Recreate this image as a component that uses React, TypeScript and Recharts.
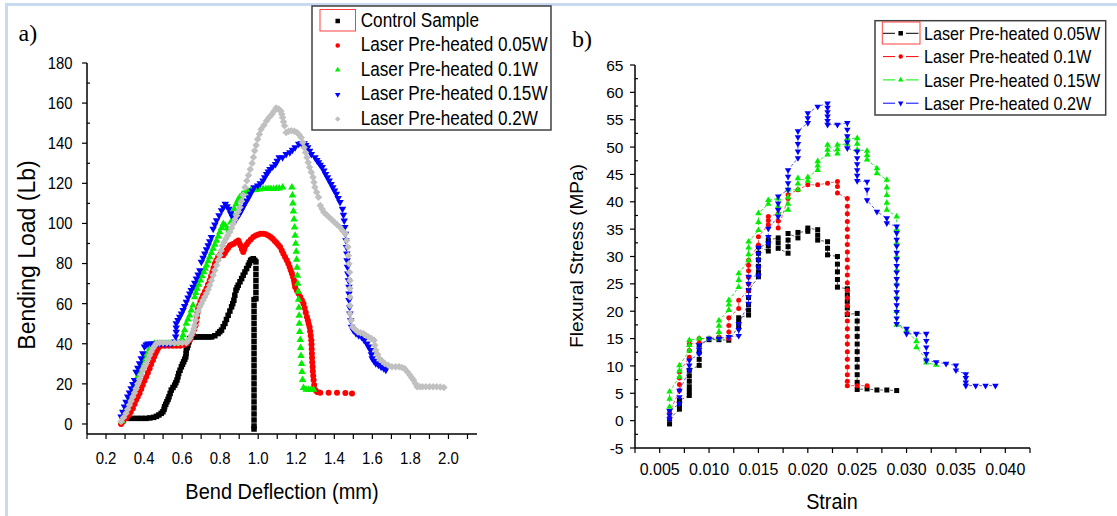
import React from 'react';
import { ScatterChart, Scatter, XAxis, YAxis } from 'recharts';

const FONT = '"Liberation Sans", Arial, sans-serif';
const SERIF = '"Liberation Serif", "Times New Roman", serif';

type Pt = [number, number];
type Col = [number, number[]];

// ---------- Panel a: Bending Load (Lb) vs Bend Deflection (mm) ----------
const namesA = ['Control Sample', 'Laser Pre-heated 0.05W', 'Laser Pre-heated 0.1W', 'Laser Pre-heated 0.15W', 'Laser Pre-heated 0.2W'];

const controlA: Pt[] = [
  [0.31, 2.8], [0.335, 2.8], [0.362, 2.8], [0.387, 2.8], [0.411, 2.8], [0.43, 3], [0.45, 3.3], [0.465, 3.8], [0.478, 4.5],
  [0.49, 5.3], [0.499, 6.1], [0.505, 7.3], [0.508, 8.6], [0.514, 9.8], [0.52, 11.1], [0.526, 12.3], [0.531, 13.6],
  [0.537, 15.2], [0.543, 16.9], [0.552, 18.2], [0.561, 19.4], [0.567, 20.6], [0.573, 21.9], [0.578, 23.5], [0.582, 25.2],
  [0.589, 26.8], [0.596, 28.5], [0.602, 29.8], [0.608, 31], [0.614, 32.3], [0.619, 33.5], [0.621, 35.1], [0.622, 36.8],
  [0.627, 38.1], [0.631, 39.3], [0.636, 41], [0.64, 42.6], [0.652, 43.4], [0.666, 43.4], [0.68, 43.4], [0.695, 43.4],
  [0.71, 43.4], [0.725, 43.4], [0.74, 43.4], [0.755, 43.4], [0.772, 44], [0.789, 45.1], [0.798, 46], [0.807, 46.8],
  [0.816, 48.5], [0.825, 50.1], [0.833, 52.1], [0.842, 54.2], [0.851, 56.3], [0.86, 58.4], [0.866, 60], [0.872, 61.7],
  [0.877, 64.2], [0.883, 66.7], [0.889, 68], [0.895, 69.2], [0.904, 70.9], [0.913, 72.5], [0.921, 74.2], [0.93, 75.8],
  [0.939, 77.5], [0.948, 79.1], [0.954, 80.3], [0.96, 81.6], [0.967, 82], [0.974, 82.4], [0.982, 81.6],
  [0.988, 80.8], [0.988, 77.5], [0.988, 74.5], [0.988, 71.5], [0.988, 68.5], [0.988, 65.5], [0.988, 62.5],
  [0.978, 62], [0.978, 59], [0.978, 56], [0.978, 53], [0.978, 50], [0.978, 47], [0.978, 44], [0.978, 41], [0.978, 38],
  [0.978, 35], [0.978, 32], [0.978, 29], [0.978, 26], [0.978, 23], [0.978, 20], [0.978, 17], [0.978, 14], [0.978, 11],
  [0.978, 8], [0.978, 5], [0.978, 2], [0.978, -1], [0.978, -2.5],
];

const w005A: Pt[] = [
  [0.279, 0], [0.29, 1.2], [0.305, 2.8], [0.32, 4.5], [0.33, 6], [0.341, 7.8], [0.35, 10], [0.358, 12], [0.367, 13.6],
  [0.376, 15.3], [0.385, 17.5], [0.393, 19.4], [0.402, 21.5], [0.411, 23.5], [0.42, 25.6], [0.429, 27.7], [0.437, 29.8],
  [0.446, 31.8], [0.453, 33.5], [0.46, 35.2], [0.467, 36.5], [0.473, 37.6], [0.48, 38.8], [0.492, 39], [0.51, 39],
  [0.53, 39], [0.55, 39], [0.57, 39], [0.59, 39], [0.61, 39.5], [0.625, 40.3], [0.64, 41.8], [0.648, 43.5], [0.657, 45.1],
  [0.664, 47.2], [0.671, 49.2], [0.675, 51.3], [0.678, 53.4], [0.681, 55.5], [0.684, 57.5], [0.69, 59.2], [0.696, 60.9],
  [0.703, 62.5], [0.71, 64.2], [0.719, 65.9], [0.728, 67.5], [0.736, 69.5], [0.745, 71.6], [0.752, 73.7], [0.759, 75.8],
  [0.765, 77.8], [0.772, 79.9], [0.78, 81.6], [0.789, 83.2], [0.8, 84.5], [0.816, 84.1], [0.825, 85.3], [0.833, 86.6],
  [0.842, 87.8], [0.851, 89], [0.862, 89.5], [0.872, 89.9], [0.883, 90.7], [0.895, 91.5], [0.901, 90.2], [0.907, 89],
  [0.914, 87.3], [0.921, 85.7], [0.926, 87], [0.93, 88.2], [0.939, 89.5], [0.948, 90.7], [0.961, 92], [0.974, 93.2],
  [0.987, 94], [1.0, 94.5], [1.013, 94.8], [1.027, 94.9], [1.04, 94.6], [1.053, 94], [1.065, 93.2], [1.076, 92.4],
  [1.087, 91.3], [1.097, 90.2], [1.106, 89.2], [1.115, 88.2], [1.124, 86.5], [1.132, 84.9], [1.141, 83.2], [1.15, 81.6],
  [1.158, 80], [1.165, 78.3], [1.171, 76.6], [1.177, 75], [1.183, 73.3], [1.188, 71.6], [1.191, 70], [1.194, 68.3],
  [1.203, 66.6], [1.212, 65], [1.221, 63.3], [1.23, 61.6], [1.238, 60], [1.244, 57.8], [1.25, 55.6], [1.256, 53.4],
  [1.261, 51.7], [1.265, 50], [1.27, 48.4], [1.273, 46.2], [1.276, 44], [1.279, 41.8], [1.28, 39.6], [1.281, 37.4],
  [1.282, 35.2], [1.283, 33], [1.284, 30.8], [1.286, 28.5], [1.287, 26.3], [1.289, 24.1], [1.291, 21.9], [1.294, 19.4],
  [1.3, 16.9], [1.31, 16], [1.326, 15.6], [1.37, 15.6], [1.414, 15.6], [1.458, 15.4], [1.493, 15.2],
];

const w01A: Pt[] = [
  [0.282, 1.5], [0.29, 4], [0.3, 7], [0.309, 9.4], [0.318, 11.5], [0.328, 13.6], [0.337, 16], [0.347, 18.6], [0.356, 21],
  [0.366, 23.5], [0.375, 25], [0.385, 26.9], [0.394, 29.5], [0.403, 31.8], [0.412, 34], [0.422, 36], [0.431, 38],
  [0.441, 39.5], [0.455, 40.1], [0.47, 40.1], [0.49, 40.1], [0.51, 40.1], [0.53, 40.1], [0.55, 40.1], [0.57, 40.1],
  [0.59, 40.5], [0.6, 42.5], [0.605, 44.3], [0.613, 46.8], [0.622, 50.1], [0.631, 52.2], [0.64, 54.2], [0.648, 56.7],
  [0.657, 59.2], [0.666, 63.3], [0.672, 65.4], [0.678, 67.5], [0.687, 69.5], [0.696, 71.6], [0.705, 73.7], [0.714, 75.8],
  [0.721, 77.5], [0.728, 79.1], [0.737, 81.2], [0.745, 83.2], [0.754, 85.3], [0.763, 87.4], [0.772, 89.5], [0.781, 91.5],
  [0.79, 93.6], [0.798, 95.7], [0.807, 97.8], [0.816, 99.8], [0.826, 99], [0.836, 97.5], [0.846, 96.5], [0.855, 100.5],
  [0.865, 104.8], [0.874, 107.3], [0.884, 109.7], [0.893, 111.5], [0.902, 113], [0.916, 114.5], [0.93, 115.5],
  [0.945, 116], [0.959, 116.4], [0.973, 116.6], [0.987, 116.7], [1.006, 117], [1.025, 117.2], [1.04, 117.2],
  [1.053, 117.2], [1.067, 117.3], [1.081, 117.3], [1.095, 117.4], [1.11, 117.5], [1.128, 118], [1.177, 118],
  [1.18, 114], [1.182, 110], [1.185, 106], [1.188, 102], [1.191, 98], [1.194, 94], [1.197, 90], [1.2, 86], [1.202, 82],
  [1.204, 78], [1.206, 74], [1.208, 70], [1.21, 66], [1.212, 62], [1.214, 58], [1.215, 54], [1.216, 50], [1.218, 46],
  [1.221, 42], [1.223, 38], [1.225, 34], [1.228, 30], [1.23, 26], [1.233, 22], [1.238, 18], [1.252, 17.2], [1.265, 17.2],
  [1.278, 17.2], [1.291, 17.2],
];

const w015A: Pt[] = [
  [0.279, 3.7], [0.288, 6], [0.297, 8.6], [0.305, 11], [0.314, 13.6], [0.323, 15.6], [0.332, 17.7], [0.341, 19.8],
  [0.35, 21.9], [0.358, 26], [0.367, 28], [0.376, 30.2], [0.385, 32.7], [0.393, 35.2], [0.402, 38.5], [0.411, 39.5],
  [0.42, 40.1], [0.437, 40.1], [0.455, 40.1], [0.472, 40.1], [0.49, 40.1], [0.507, 40.1], [0.525, 40.1], [0.543, 40.1],
  [0.561, 41], [0.566, 43.5], [0.569, 45.9], [0.569, 48], [0.569, 50.1], [0.578, 51.8], [0.587, 53.4], [0.596, 55],
  [0.605, 56.7], [0.613, 58.8], [0.622, 60.9], [0.631, 63], [0.64, 65], [0.648, 66.7], [0.657, 68.3], [0.666, 70.4],
  [0.675, 72.5], [0.684, 74.5], [0.693, 76.6], [0.701, 80.8], [0.71, 82.8], [0.719, 84.9], [0.728, 87], [0.737, 89],
  [0.745, 91], [0.754, 93.2], [0.763, 97.3], [0.772, 99.4], [0.781, 101.5], [0.794, 104], [0.807, 106.5], [0.817, 108],
  [0.827, 109.7], [0.836, 108.5], [0.846, 107.2], [0.855, 105], [0.865, 103.1], [0.874, 102.5], [0.884, 102.3],
  [0.893, 103.5], [0.902, 104.8], [0.912, 106.5], [0.921, 108.1], [0.93, 109.8], [0.94, 111.4], [0.95, 113],
  [0.959, 114.7], [0.968, 116.3], [0.978, 118], [0.997, 118.8], [1.011, 120], [1.025, 121.3], [1.034, 123],
  [1.044, 124.6], [1.053, 125.8], [1.062, 127.1], [1.076, 128.3], [1.091, 129.6], [1.1, 131.2], [1.11, 132.9],
  [1.128, 132.9], [1.147, 134.6], [1.166, 135.4], [1.18, 136.6], [1.194, 137.9], [1.213, 139.6], [1.227, 139.9],
  [1.241, 139.9], [1.25, 139], [1.26, 137.9], [1.27, 136.2], [1.279, 134.6], [1.298, 132.9], [1.308, 131.6],
  [1.317, 130.4], [1.326, 129.2], [1.336, 128], [1.345, 126.3], [1.354, 124.6], [1.364, 123], [1.373, 121.3],
  [1.383, 119.6], [1.392, 118], [1.401, 116.3], [1.411, 114.7], [1.42, 112.6], [1.43, 110.6], [1.443, 107.2],
  [1.448, 104.3], [1.452, 101.4], [1.455, 98.1], [1.458, 94.8], [1.461, 91.5], [1.464, 88.2], [1.466, 84.9],
  [1.467, 81.6], [1.469, 78.3], [1.471, 74.9], [1.474, 71.6], [1.477, 68.3], [1.477, 65], [1.477, 61.7], [1.48, 58.3],
  [1.482, 55], [1.486, 51.7], [1.49, 48.4], [1.5, 46.7], [1.514, 45.1], [1.528, 44.2], [1.543, 43.4], [1.557, 41.8],
  [1.571, 40.1], [1.58, 38.5], [1.59, 36.8], [1.595, 34.7], [1.599, 32.7], [1.608, 31.4], [1.618, 30.2], [1.632, 29.4],
  [1.646, 28.5], [1.66, 27.7], [1.671, 26.9],
];

const w02A: Pt[] = [
  [0.279, 1.2], [0.292, 3.2], [0.305, 5.3], [0.314, 7.3], [0.323, 9.4], [0.332, 11.5], [0.341, 13.6], [0.35, 15.6],
  [0.358, 17.7], [0.367, 20], [0.376, 22.3], [0.385, 24.6], [0.393, 26.9], [0.402, 28.5], [0.411, 30.2], [0.42, 32.3],
  [0.429, 34.3], [0.437, 36], [0.446, 37.6], [0.455, 38.9], [0.464, 40.1], [0.481, 40.5], [0.5, 40.5], [0.52, 40.5],
  [0.54, 40.5], [0.56, 40.5], [0.58, 40.5], [0.6, 40.5], [0.622, 40.5], [0.631, 41.5], [0.64, 42.6], [0.648, 44.3],
  [0.657, 45.9], [0.662, 47.5], [0.666, 49.2], [0.671, 51.7], [0.675, 54.2], [0.684, 56.3], [0.693, 58.4], [0.701, 60],
  [0.71, 61.7], [0.719, 63.3], [0.728, 65], [0.737, 67.1], [0.745, 69.2], [0.754, 71.6], [0.763, 74.1], [0.772, 76.6],
  [0.781, 79.1], [0.79, 81.6], [0.798, 84.1], [0.805, 86.5], [0.812, 89], [0.821, 90.7], [0.83, 92.4], [0.84, 94],
  [0.851, 95.7], [0.86, 97.7], [0.869, 99.8], [0.877, 101.9], [0.886, 104], [0.895, 106], [0.904, 108.1], [0.912, 111],
  [0.921, 114], [0.931, 118], [0.94, 121.3], [0.949, 124], [0.958, 127], [0.968, 130], [0.975, 133], [0.981, 136.2],
  [0.989, 139], [0.997, 142], [1.006, 144.5], [1.015, 147], [1.03, 149], [1.044, 151.2], [1.058, 153], [1.072, 154.5],
  [1.083, 156], [1.094, 157.5], [1.107, 157], [1.119, 156.1], [1.124, 154.5], [1.128, 152.8], [1.133, 150.7],
  [1.138, 148.7], [1.147, 145.4], [1.16, 146], [1.175, 146.2], [1.19, 146], [1.204, 145.4], [1.215, 144.2],
  [1.226, 142.9], [1.234, 140.4], [1.241, 137.9], [1.249, 135.4], [1.256, 132.9], [1.263, 130.4], [1.27, 128],
  [1.279, 125.5], [1.288, 123], [1.293, 120.5], [1.298, 118], [1.307, 115.5], [1.317, 113], [1.326, 108.9],
  [1.336, 107.2], [1.345, 105.6], [1.359, 104.3], [1.373, 103.1], [1.387, 101.8], [1.401, 100.6], [1.415, 99.3],
  [1.43, 98.1], [1.444, 96.4], [1.458, 94.8], [1.465, 91.5], [1.471, 88.2], [1.474, 84], [1.477, 79.9], [1.48, 75.7],
  [1.482, 71.6], [1.482, 67.5], [1.482, 63.3], [1.482, 59.1], [1.482, 55], [1.489, 51.7], [1.496, 48.4], [1.51, 47.1],
  [1.524, 45.9], [1.538, 45.5], [1.552, 45.1], [1.566, 44.2], [1.58, 43.4], [1.595, 42.6], [1.609, 41.8], [1.613, 39.3],
  [1.618, 36.8], [1.628, 34.7], [1.637, 32.7], [1.651, 31.4], [1.665, 30.2], [1.684, 29.3], [1.703, 28.5], [1.722, 28.5],
  [1.74, 28.5], [1.755, 28.1], [1.769, 27.7], [1.783, 26], [1.797, 24.4], [1.807, 23.1], [1.816, 21.9], [1.826, 20.2],
  [1.835, 18.6], [1.849, 18.6], [1.863, 18.6], [1.881, 18.6], [1.9, 18.6], [1.919, 18.6], [1.938, 18.6], [1.957, 18.4],
  [1.976, 18.2],
];

const xMajorA = [0.2, 0.4, 0.6, 0.8, 1.0, 1.2, 1.4, 1.6, 1.8, 2.0];
const xMinorA = [0.1, 0.3, 0.5, 0.7, 0.9, 1.1, 1.3, 1.5, 1.7, 1.9, 2.1];
const yMajorA = [0, 20, 40, 60, 80, 100, 120, 140, 160, 180];
const yMinorA = [10, 30, 50, 70, 90, 110, 130, 150, 170];

// ---------- Panel b: Flexural Stress (MPa) vs Strain ----------
const namesB = ['Laser Pre-heated 0.05W', 'Laser Pre-heated 0.1W', 'Laser Pre-heated 0.15W', 'Laser Pre-heated 0.2W'];

const w005B: Col[] = [
  [0.006, [-0.6, 0.3]], [0.007, [2.1, 2.9, 3.7]], [0.008, [4.6, 5.4, 6.2, 7.2, 8.2, 9.2]], [0.009, [10.1, 11.2, 12.5, 13.8]],
  [0.010, [14.8]], [0.011, [14.8]], [0.012, [14.7]], [0.013, [17.2, 18, 18.8]], [0.014, [19.3, 20.2, 21.2, 22.5, 23.8]],
  [0.015, [26.3, 27.2, 28.2, 29.4, 30.6, 31.8]], [0.016, [31, 32, 33]], [0.017, [33.4, 32.5, 31.5]],
  [0.018, [30.6, 31.8, 33, 34.2]], [0.019, [33.4, 34.4]], [0.020, [34.6, 35.2]], [0.021, [34.9, 33.9, 33]],
  [0.022, [32.7, 31.5, 30.3]], [0.023, [30, 28.6, 27.2, 25.8, 24.4]], [0.024, [24.1, 23, 21.8, 20.6, 19.4]],
  [0.025, [19.6, 18.2, 16.8, 15.4, 14, 12.6, 11.2, 9.8, 8.4, 7, 5.7]], [0.026, [5.8]], [0.027, [5.6]], [0.028, [5.6]],
  [0.029, [5.5]],
];

const w01B: Col[] = [
  [0.006, [0.5, 1.5]], [0.007, [5.5, 6.6, 7.8, 8.9]], [0.008, [11.6, 12.8, 14]], [0.009, [14.2, 15]], [0.010, [15]],
  [0.011, [15.3]], [0.012, [15, 16.2, 17.4, 18.8]], [0.013, [20.5, 22]], [0.014, [23.8, 25, 26.2, 27.4, 28.4, 29.3]],
  [0.015, [32.1, 33.6]], [0.016, [35.8, 36.6, 37.3]], [0.017, [37.8, 36.5, 35.2]], [0.018, [40.6, 41.3]], [0.019, [42.2]],
  [0.020, [43.1]], [0.021, [43.1]], [0.022, [43.4]], [0.023, [43.7, 42.8, 41.6]],
  [0.024, [40.6, 39.2, 37.8, 36.4, 35, 33.6, 32.2, 30.8, 29.4, 28, 26.6, 25.2, 23.8, 22.4, 21, 19.6, 18.2, 16.8, 15.4, 14, 12.6, 11.2, 9.8, 8.4, 7.2, 6.4]],
  [0.025, [6.4]], [0.026, [6.4]],
];

const w015B: Col[] = [
  [0.006, [2.5, 4, 5.3]], [0.007, [8, 9.1, 10.1]], [0.008, [12.8, 13.8, 14.7]], [0.009, [15]], [0.010, [15]],
  [0.011, [15, 16.2, 17.3, 18.3]], [0.012, [20.2, 21.2, 22]], [0.013, [24.4, 25.7, 26.9]], [0.014, [29.3, 30.4, 31.6, 32.7]],
  [0.015, [34.8, 36.3, 37.9]], [0.016, [39.6, 40.3]], [0.017, [40.6, 39.2, 37.9]], [0.018, [38.5, 39.6, 40.8, 42.2]],
  [0.019, [42.2, 43.3, 44.3]], [0.020, [43.8, 44.5]], [0.021, [45.8, 46.6, 47.4]], [0.022, [48.6, 49.5, 50.4]],
  [0.023, [48.8, 49.6, 50.4]], [0.024, [50.6, 51.6]], [0.025, [51.6, 50.6, 49.5]], [0.026, [49.3, 48.5, 47.7]],
  [0.027, [46.1, 45.2]], [0.028, [44, 42.6, 41.2, 39.8, 38.5]], [0.029, [37.3, 35, 32.5, 30, 27.5, 25, 22.5, 20, 17.5]],
  [0.030, [16.5]], [0.031, [14.5, 13.4]], [0.032, [11.2, 10.6]], [0.033, [10.2]],
];

const w02B: Col[] = [
  [0.006, [0.3, 1, 1.8]], [0.007, [3.1, 4.3, 5.5]], [0.008, [9.2, 10.1, 11]], [0.009, [12.2, 13, 13.8]], [0.010, [15]],
  [0.011, [15]], [0.012, [15.3]], [0.013, [15.5, 16.6, 17.7]], [0.014, [21.4, 22.6, 23.8, 25, 26.3]],
  [0.015, [26.5, 28, 29.3, 30.5, 31.6]], [0.016, [32.4, 33.6, 35.1]], [0.017, [37.3, 38.5, 39.7, 41]],
  [0.018, [42.2, 43.4, 44.6, 45.8]], [0.019, [48, 49.2, 50.6, 51.8, 52.9]], [0.020, [54.4, 55.3, 56.2]], [0.021, [57.4]],
  [0.022, [58, 57.2, 56.4, 55.6, 54.8, 54.1]], [0.023, [54.1]], [0.024, [54.4, 53.2, 52, 50.9, 49.8]],
  [0.025, [49.2, 48, 46.9, 45.8, 44.8, 43.8]], [0.026, [43.7, 42.2, 40.3]], [0.027, [38.2]], [0.028, [37, 36.1]],
  [0.029, [35.5, 34.3, 33.1, 31.9, 30.7, 29.5, 28.3, 27.1, 25.9, 24.7, 23.5, 22.3, 21.1, 19.9, 18.7, 17.7]],
  [0.030, [16.8, 15.9]], [0.031, [15.9]], [0.032, [15.9, 14.6, 13.4, 12.2, 11]], [0.033, [10.7]], [0.034, [10.4]],
  [0.035, [10.1, 9.2]], [0.036, [8.5, 7.8, 7, 6.4]], [0.037, [6.4]], [0.038, [6.4]], [0.039, [6.4]],
];

const xMajorB = [0.005, 0.01, 0.015, 0.02, 0.025, 0.03, 0.035, 0.04];
const xMinorB = [0.0025, 0.0075, 0.0125, 0.0175, 0.0225, 0.0275, 0.0325, 0.0375, 0.0425];
const yMajorB = [-5, 0, 5, 10, 15, 20, 25, 30, 35, 40, 45, 50, 55, 60, 65];
const yMinorB = [-2.5, 2.5, 7.5, 12.5, 17.5, 22.5, 27.5, 32.5, 37.5, 42.5, 47.5, 52.5, 57.5, 62.5];

// ---------- helpers ----------
const toObj = (pts: Pt[]) => pts.map(([x, y]) => ({ x, y }));
const flat = (cols: Col[]) => cols.flatMap(([x, ys]) => ys.map((y) => ({ x, y })));
const isMajor = (v: number, majors: number[]) => majors.some((m) => Math.abs(m - v) < 1e-9);

function Marker({ kind, cx, cy, s, color }: any) {
  if (cx == null || cy == null || isNaN(cx) || isNaN(cy)) return null;
  if (kind === 'square') return <rect x={cx - s / 2} y={cy - s / 2} width={s} height={s} fill={color} />;
  if (kind === 'circle') return <circle cx={cx} cy={cy} r={s / 2} fill={color} />;
  if (kind === 'up') {
    const h = s * 0.866;
    return <polygon points={`${cx},${cy - (2 * h) / 3} ${cx - s / 2},${cy + h / 3} ${cx + s / 2},${cy + h / 3}`} fill={color} />;
  }
  if (kind === 'down') {
    const h = s * 0.866;
    return <polygon points={`${cx},${cy + (2 * h) / 3} ${cx - s / 2},${cy - h / 3} ${cx + s / 2},${cy - h / 3}`} fill={color} />;
  }
  return <polygon points={`${cx},${cy - s / 2} ${cx + s / 2},${cy} ${cx},${cy + s / 2} ${cx - s / 2},${cy}`} fill={color} />;
}

const shapeOf = (kind: string, color: string, s: number) => (p: any) => <Marker kind={kind} cx={p.cx} cy={p.cy} s={s} color={color} />;

function STxt({ x, y, fs, sx = 1, anchor = 'middle', children, family = FONT }: any) {
  return (
    <text transform={`translate(${x},${y}) scale(${sx},1)`} textAnchor={anchor} fontSize={fs} fontFamily={family} fill="#000">
      {children}
    </text>
  );
}

const makeXTick = (majors: number[], fmt: (v: number) => string, dy: number, fs: number, sx: number) => (props: any) => {
  const { x, y, payload } = props;
  const v = payload.value;
  const major = isMajor(v, majors);
  return (
    <g>
      <line x1={x} x2={x} y1={y} y2={y + 5} stroke="#000" strokeWidth={1.2} />
      {major && <STxt x={x} y={y + dy} fs={fs} sx={sx}>{fmt(v)}</STxt>}
    </g>
  );
};

const makeYTick = (majors: number[], gap: number, fs: number, sx: number) => (props: any) => {
  const { x, y, payload } = props;
  const v = payload.value;
  const major = isMajor(v, majors);
  return (
    <g>
      {major ? (
        <line x1={x - 5} x2={x} y1={y} y2={y} stroke="#000" strokeWidth={1.2} />
      ) : (
        <line x1={x} x2={x + 3} y1={y} y2={y} stroke="#000" strokeWidth={1.2} />
      )}
      {major && <STxt x={x - gap} y={y + fs * 0.36} fs={fs} sx={sx} anchor="end">{String(v)}</STxt>}
    </g>
  );
};

const seriesA = [
  { name: namesA[0], data: toObj(controlA), kind: 'square', color: '#000000', s: 5.5 },
  { name: namesA[1], data: toObj(w005A), kind: 'circle', color: '#ff0000', s: 6 },
  { name: namesA[2], data: toObj(w01A), kind: 'up', color: '#00ee00', s: 7.5 },
  { name: namesA[3], data: toObj(w015A), kind: 'down', color: '#0000ff', s: 7.5 },
  { name: namesA[4], data: toObj(w02A), kind: 'diamond', color: '#c0c0c0', s: 7.5 },
];

const seriesB = [
  { name: namesB[0], data: flat(w005B), kind: 'square', color: '#000000', line: '#333333', s: 5 },
  { name: namesB[1], data: flat(w01B), kind: 'circle', color: '#ff0000', line: '#ff3030', s: 5 },
  { name: namesB[2], data: flat(w015B), kind: 'up', color: '#00ee00', line: '#00dd00', s: 6.5 },
  { name: namesB[3], data: flat(w02B), kind: 'down', color: '#0000ff', line: '#3030ff', s: 6.5 },
];

const ticksXA = [...xMinorA, ...xMajorA].sort((a, b) => a - b);
const ticksYA = [...yMinorA, ...yMajorA].sort((a, b) => a - b);
const ticksXB = [...xMinorB, ...xMajorB].sort((a, b) => a - b);
const ticksYB = [...yMinorB, ...yMajorB].sort((a, b) => a - b);

const axisLine = { stroke: '#000', strokeWidth: 1.5 };

export default function App() {
  return (
    <div style={{ position: 'absolute', left: 0, top: 0, width: 1117, height: 516, background: '#fff', overflow: 'hidden' }}>
      <div style={{ position: 'absolute', left: 0, top: 0 }}>
        <ScatterChart width={560} height={516} margin={{ top: 63, right: 83, bottom: 81, left: 86 }}>
          <XAxis type="number" dataKey="x" domain={[0.1, 2.15]} allowDataOverflow ticks={ticksXA} interval={0}
            tick={makeXTick(xMajorA, (v) => v.toFixed(1), 29.5, 17, 0.88)} tickLine={false} tickSize={0} tickMargin={0}
            axisLine={axisLine} height={1} />
          <YAxis type="number" dataKey="y" domain={[-5, 180]} allowDataOverflow ticks={ticksYA} interval={0}
            tick={makeYTick(yMajorA, 14.5, 16.5, 0.9)} tickLine={false} tickSize={0} tickMargin={0}
            axisLine={axisLine} width={1} />
          {seriesA.map((s) => (
            <Scatter key={s.name} name={s.name} data={s.data} isAnimationActive={false} shape={shapeOf(s.kind, s.color, s.s)} />
          ))}
        </ScatterChart>
      </div>
      <div style={{ position: 'absolute', left: 560, top: 0 }}>
        <ScatterChart width={557} height={516} margin={{ top: 65, right: 87, bottom: 67, left: 74 }}>
          <XAxis type="number" dataKey="x" domain={[0.0025, 0.0425]} allowDataOverflow ticks={ticksXB} interval={0}
            tick={makeXTick(xMajorB, (v) => v.toFixed(3), 27, 17, 0.94)} tickLine={false} tickSize={0} tickMargin={0}
            axisLine={axisLine} height={1} />
          <YAxis type="number" dataKey="y" domain={[-5, 65]} allowDataOverflow ticks={ticksYB} interval={0}
            tick={makeYTick(yMajorB, 11.5, 15.5, 1)} tickLine={false} tickSize={0} tickMargin={0}
            axisLine={axisLine} width={1} />
          {seriesB.map((s) => (
            <Scatter key={s.name} name={s.name} data={s.data} isAnimationActive={false}
              line={{ stroke: s.line, strokeWidth: 0.8, strokeDasharray: '3 2' }} lineJointType="linear"
              shape={shapeOf(s.kind, s.color, s.s)} />
          ))}
        </ScatterChart>
      </div>
      <svg width={1117} height={516} style={{ position: 'absolute', left: 0, top: 0, pointerEvents: 'none' }}>
        {/* frame */}
        <rect x={5} y={3} width={1112} height={3} fill="#c9d9ef" />
        <rect x={5} y={3} width={3} height={513} fill="#c9d9ef" />
        {/* panel labels */}
        <STxt x={18.5} y={40.5} fs={24} sx={1} anchor="start" family={SERIF}>a)</STxt>
        <STxt x={572} y={46.5} fs={24} sx={1} anchor="start" family={SERIF}>b)</STxt>
        {/* axis titles */}
        <STxt x={282} y={499} fs={21.5} sx={0.93}>Bend Deflection (mm)</STxt>
        <text transform="translate(34.5,255) rotate(-90)" textAnchor="middle" fontSize={23} fontFamily={FONT} fill="#000">Bending Load (Lb)</text>
        <STxt x={832} y={509} fs={22} sx={0.9}>Strain</STxt>
        <text transform="translate(583,256) rotate(-90)" textAnchor="middle" fontSize={19} fontFamily={FONT} fill="#000">Flexural Stress (MPa)</text>
        {/* legend a */}
        <rect x={312} y={6} width={239} height={124} fill="#fff" stroke="#404040" strokeWidth={1.5} />
        <rect x={320} y={9.5} width={35.5} height={21.5} fill="none" stroke="#ff4040" strokeWidth={1} />
        {seriesA.map((s, i) => (
          <g key={s.name}>
            <Marker kind={s.kind} cx={337.7} cy={21 + i * 24.5} s={s.kind === 'square' || s.kind === 'circle' ? 4.5 : 5.5} color={s.color} />
            <STxt x={360.7} y={26.7 + i * 24.5} fs={19.5} sx={0.88} anchor="start">{s.name}</STxt>
          </g>
        ))}
        {/* legend b */}
        <rect x={875} y={20.7} width={230.7} height={94.3} fill="#fff" stroke="#404040" strokeWidth={1.5} />
        <rect x={882.3} y={22} width={37.7} height={22} fill="none" stroke="#ff4040" strokeWidth={1} />
        {seriesB.map((s, i) => (
          <g key={s.name}>
            <line x1={883} x2={895} y1={33.3 + i * 23.3} y2={33.3 + i * 23.3} stroke={s.color} strokeWidth={1} />
            <line x1={906} x2={918.5} y1={33.3 + i * 23.3} y2={33.3 + i * 23.3} stroke={s.color} strokeWidth={1} />
            <Marker kind={s.kind} cx={900.7} cy={33.3 + i * 23.3} s={s.kind === 'square' || s.kind === 'circle' ? 4.5 : 5.5} color={s.color} />
            <STxt x={924} y={40 + i * 23.3} fs={18.5} sx={0.875} anchor="start">{s.name}</STxt>
          </g>
        ))}
      </svg>
    </div>
  );
}
